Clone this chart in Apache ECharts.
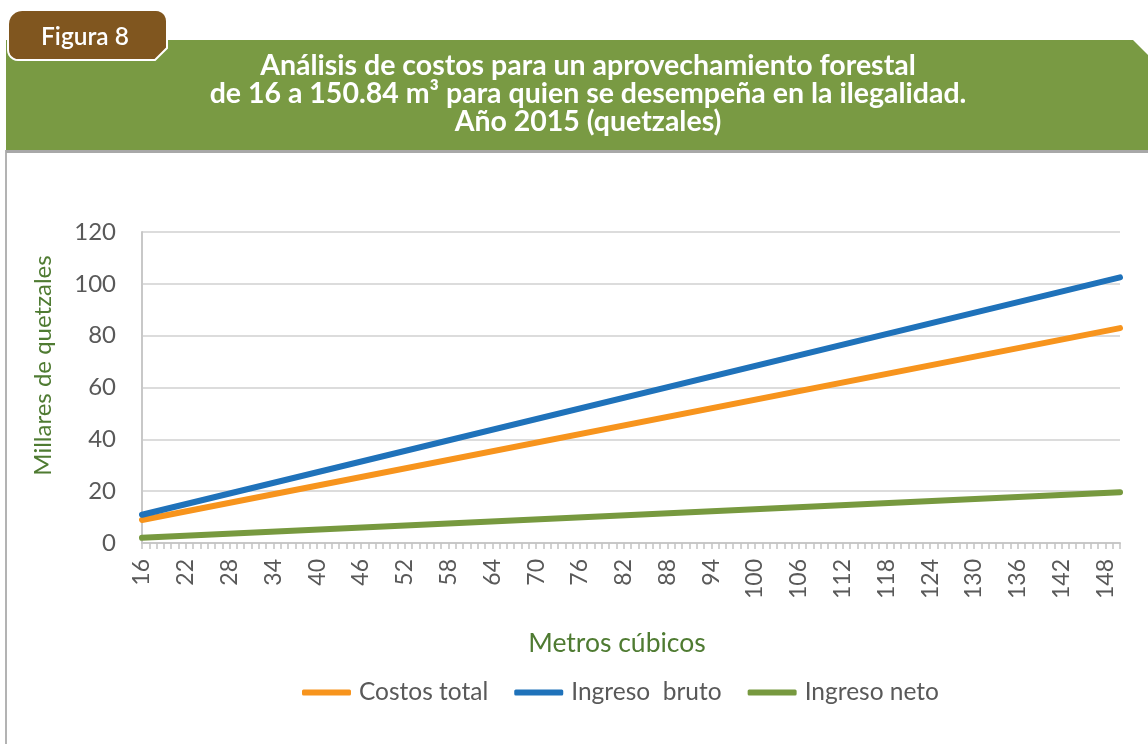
<!DOCTYPE html>
<html>
<head>
<meta charset="utf-8">
<title>Figura 8</title>
<script src="https://cdn.jsdelivr.net/npm/echarts@6/dist/echarts.min.js"></script>
<style>
  html, body { margin: 0; padding: 0; background: #fff; }
  #chart { width: 1148px; height: 744px; }
</style>
</head>
<body>
<div id="chart"></div>
<script>
// metros cubicos (eje x)
var metros = ['16','17','18','19','20','21','22','23','24','25','26','27','28','29','30','31','32','33','34','35',
  '36','37','38','39','40','41','42','43','44','45','46','47','48','49','50','51','52','53','54','55',
  '56','57','58','59','60','61','62','63','64','65','66','67','68','69','70','71','72','73','74','75',
  '76','77','78','79','80','81','82','83','84','85','86','87','88','89','90','91','92','93','94','95',
  '96','97','98','99','100','101','102','103','104','105','106','107','108','109','110','111','112','113','114','115',
  '116','117','118','119','120','121','122','123','124','125','126','127','128','129','130','131','132','133','134','135',
  '136','137','138','139','140','141','142','143','144','145','146','147','148','149','150'];

// millares de quetzales (rectas)
var costosTotal  = [['16', 8.9],  ['150', 82.9]];
var ingresoBruto = [['16', 10.9], ['150', 102.5]];
var ingresoNeto  = [['16', 2.0],  ['150', 19.6]];

var nombres = ['Costos total', 'Ingreso  bruto', 'Ingreso neto'];
var colores = ['#f7941d', '#1f72ba', '#77993f'];

var titulo = 'Análisis de costos para un aprovechamiento forestal\n' +
  'de 16 a 150.84 m³ para quien se desempeña en la ilegalidad.\n' +
  'Año 2015 (quetzales)';

var fuente = 'Lato, "Open Sans", sans-serif';

// esquina redondeada para la pestaña
function esquina(cx, cy, r, a0, a1) {
    var pts = [];
    for (var i = 0; i <= 6; i++) {
        var a = (a0 + (a1 - a0) * i / 6) * Math.PI / 180;
        pts.push([cx + r * Math.cos(a), cy + r * Math.sin(a)]);
    }
    return pts;
}
var pestana = [].concat(
    esquina(22, 24, 14, 180, 270),
    esquina(156, 21, 11, 270, 360),
    [[167, 48], [155, 60]],
    esquina(18, 50, 10, 90, 180)
);

var mychart = echarts.init(document.getElementById('chart'), null, { renderer: 'canvas' });

function linea(nombre, datos, color) {
    return {
        name: nombre,
        type: 'line',
        data: datos,
        showSymbol: false,
        symbol: 'none',
        animation: false,
        lineStyle: { color: color, width: 6, cap: 'round' },
        itemStyle: { color: color }
    };
}

var option = {
    textStyle: { fontFamily: fuente },
    color: colores,
    grid: { left: 142, right: 28, top: 232, bottom: 201, containLabel: false },
    legend: {
        bottom: 34,
        left: 297,
        icon: 'roundRect',
        itemWidth: 49,
        itemHeight: 6,
        itemGap: 26,
        textStyle: { color: '#595959', fontSize: 24.5, fontFamily: fuente, padding: [0, 0, 0, 3] },
        data: nombres
    },
    xAxis: {
        type: 'category',
        data: metros,
        boundaryGap: false,
        name: 'Metros cúbicos',
        nameLocation: 'middle',
        nameGap: 87,
        nameMoveOverlap: false,
        nameTextStyle: { color: '#4f7b32', fontSize: 26.5, fontFamily: fuente, padding: [0, 28, 0, 0] },
        axisLine: { lineStyle: { color: '#c8c8c8', width: 2 } },
        axisTick: { show: true, interval: 0, length: 6, lineStyle: { color: '#c4c4c4', width: 1.5 } },
        axisLabel: { interval: 5, rotate: 90, margin: 16, color: '#595959', fontSize: 23, fontFamily: fuente },
        splitLine: { show: false }
    },
    yAxis: {
        type: 'value',
        min: 0,
        max: 120,
        interval: 20,
        name: 'Millares de quetzales',
        nameLocation: 'middle',
        nameGap: 87,
        nameMoveOverlap: false,
        nameTextStyle: { color: '#4f7b32', fontSize: 24, fontFamily: fuente, padding: [0, 0, 0, 44] },
        axisLine: { show: true, lineStyle: { color: '#c8c8c8', width: 2 } },
        axisTick: { show: false },
        axisLabel: { margin: 26, color: '#595959', fontSize: 24, fontFamily: fuente },
        splitLine: { lineStyle: { color: '#d0d0d0', width: 1.5 } }
    },
    graphic: [
        // borde izquierdo del recuadro
        { type: 'rect', shape: { x: 5, y: 150, width: 2, height: 594 }, style: { fill: '#b3b3b3' }, silent: true },
        // banda verde del titulo
        {
            type: 'polygon',
            shape: { points: [[6, 40], [1133, 40], [1148, 55], [1148, 150], [6, 150]] },
            style: { fill: '#799a43' },
            silent: true
        },
        { type: 'rect', shape: { x: 6, y: 150, width: 1142, height: 3 }, style: { fill: '#a8a8a8' }, silent: true },
        // pestaña "Figura 8"
        {
            type: 'polygon',
            shape: { points: pestana },
            style: { fill: '#80561f', stroke: '#ffffff', lineWidth: 2 },
            silent: true
        },
        {
            type: 'text',
            x: 85, y: 37,
            style: { text: 'Figura 8', fill: '#ffffff', font: '600 24.5px ' + fuente, textAlign: 'center', textVerticalAlign: 'middle' },
            silent: true
        },
        {
            type: 'text',
            x: 588, y: 94,
            style: {
                text: titulo, fill: '#ffffff', font: 'bold 28.5px ' + fuente,
                textAlign: 'center', textVerticalAlign: 'middle', lineHeight: 28
            },
            silent: true
        }
    ],
    series: [
        linea(nombres[0], costosTotal, colores[0]),
        linea(nombres[1], ingresoBruto, colores[1]),
        linea(nombres[2], ingresoNeto, colores[2])
    ]
};
mychart.setOption(option);
</script>
</body>
</html>
